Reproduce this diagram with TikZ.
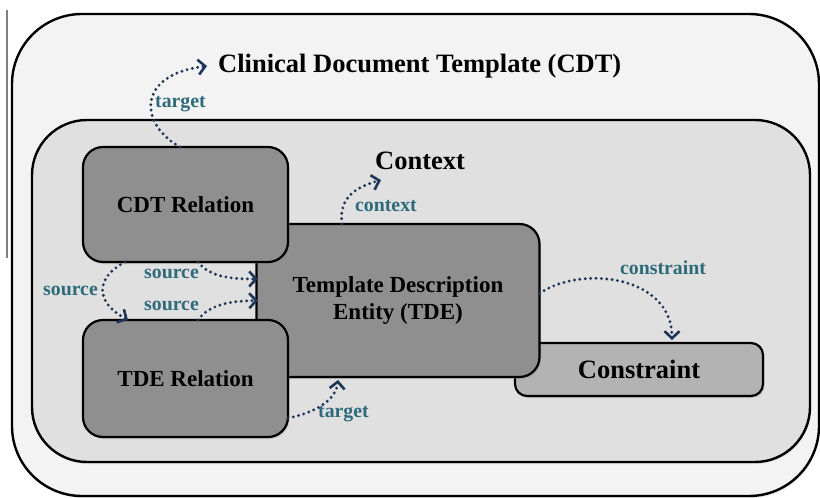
\documentclass[tikz,border=0pt]{standalone}
\usepackage{fontspec}
\setmainfont{Liberation Serif}
\usepackage{xcolor}
\usetikzlibrary{positioning, arrows.meta, shadows}

\definecolor{outerfill}{HTML}{F3F3F3}
\definecolor{innerfill}{HTML}{E0E0E0}
\definecolor{entitygray}{HTML}{8F8F8F}
\definecolor{constraintgray}{HTML}{B3B3B3}
\definecolor{linkblue}{HTML}{1F3558}
\definecolor{linkteal}{HTML}{2E6A7A}

\newcommand{\cdtheadfont}{\bfseries\fontsize{26.5}{30}\selectfont}
\newcommand{\cdtboxfont}{\bfseries\fontsize{23}{27}\selectfont}
\newcommand{\cdtlinkfont}{\bfseries\fontsize{19.8}{22}\selectfont}

\begin{document}
\begin{tikzpicture}[
    x=1pt, y=-1pt,
    node distance=58pt,
    frame/.style={draw, line width=2.4pt, drop shadow={opacity=0.2, shadow xshift=1pt, shadow yshift=-2pt}},
    entity/.style={rectangle, draw, line width=2.2pt, rounded corners=20pt, outer sep=0pt,
        fill=entitygray, align=center, font=\cdtboxfont,
        drop shadow={opacity=0.3, shadow xshift=1.5pt, shadow yshift=-2pt}},
    heading/.style={font=\cdtheadfont, inner sep=0pt, anchor=west},
    link/.style={draw=linkblue, line width=3.2pt, dash pattern=on 0pt off 5.4pt, line cap=round,
        -{Straight Barb[length=7pt, width=15pt, line width=2.6pt]}},
    linklabel/.style={text=linkteal, font=\cdtlinkfont, inner sep=0pt, anchor=west}
]
\useasboundingbox (0,0) rectangle (820,498);

% Margin rule
\draw[gray, line width=1.8pt] (7,10) -- (7,258);

% Outer and inner frames
\draw[frame, fill=outerfill, rounded corners=70pt] (12,14) rectangle (819,496);
\draw[frame, fill=innerfill, rounded corners=55pt] (32,120) rectangle (810,462);

% Entities
\node[entity, fill=constraintgray, rounded corners=12pt, font=\cdtheadfont,
      minimum width=248pt, minimum height=53pt] (constraint) at (639,369.5) {Constraint};
\node[entity, minimum width=283pt, minimum height=153pt] (tde) at (398,300.5) {Template Description\\Entity (TDE)};
\node[entity, minimum width=205pt, minimum height=115pt] (cdtrel) at (185.5,204.5) {CDT Relation};
\node[entity, minimum width=205pt, minimum height=117pt, below=of cdtrel] (tderel) {TDE Relation};

% Headings
\node[heading] (cdt) at (218,66) {Clinical Document Template (CDT)};
\node[heading] (ctx) at (375,161) {Context};

% Links
\draw[link] ([xshift=-5.5pt]cdtrel.north) .. controls (140,125) and (135,75) .. ([xshift=-11pt]cdt.west);
\draw[link] ([xshift=-56pt]tde.north) .. controls (338,195) and (360,186) .. ([shift={(6pt,-10pt)}]ctx.south west);
\draw[link] ([yshift=7pt]tde.east) .. controls (580,265) and (672,275) .. ([shift={(33pt,3pt)}]constraint.north);
\draw[link] ([xshift=-60.5pt]cdtrel.south) .. controls (95,278) and (95,302) .. ([xshift=-57.5pt]tderel.north);
\draw[link] ([xshift=12.5pt]cdtrel.south) .. controls (210,278) and (235,279) .. ([shift={(1.5pt,21.5pt)}]tde.west);
\draw[link] ([xshift=12.5pt]tderel.north) .. controls (210,303) and (235,301) .. ([xshift=1.5pt]tde.west);
\draw[link] ([yshift=-39.5pt]tderel.east) .. controls (315,413) and (336,400) .. ([shift={(-60pt,-3pt)}]tde.south);

% Link labels
\node[linklabel] (targetup) at (155,104) {target};
\node[linklabel] (contextlbl) at (355,206) {context};
\node[linklabel] (constraintlbl) at (620,268) {constraint};
\node[linklabel] (sourceleft) at (43,291) {source};
\node[linklabel] (sourceup) at (144,274) {source};
\node[linklabel] (sourcedown) at (144,306) {source};
\node[linklabel] (targetdown) at (318,414) {target};

\end{tikzpicture}
\end{document}
